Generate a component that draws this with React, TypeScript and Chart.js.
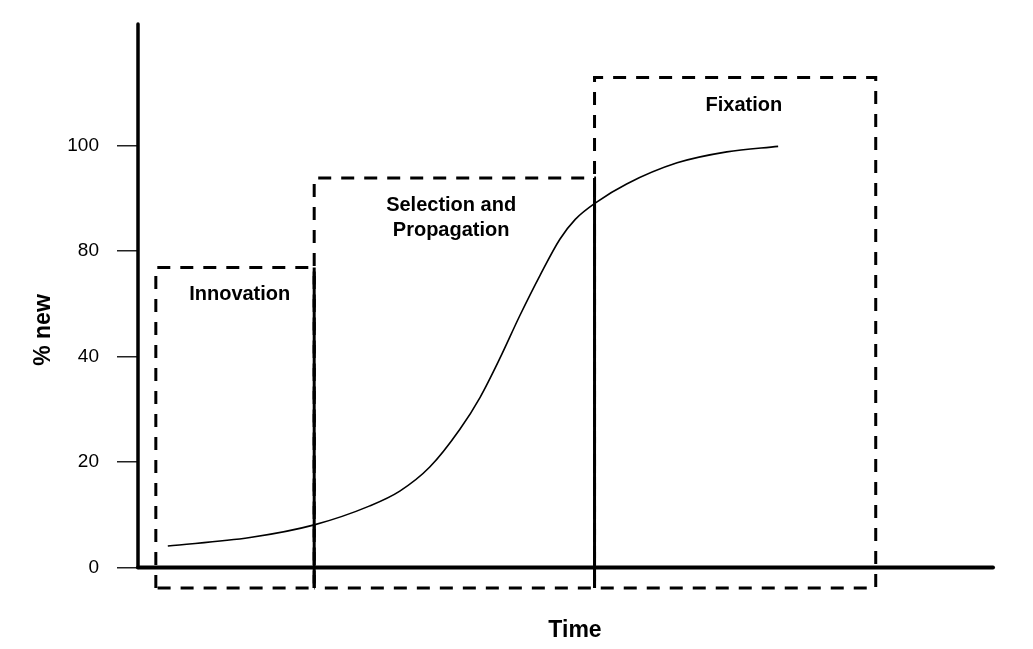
import React, { useEffect, useRef } from 'react';
import { Chart, registerables } from 'chart.js';

Chart.register(...registerables);

// Curve: time (arbitrary units 0-100) vs "% new" (axis position units, 100 = top tick)
const TIME = [3.6, 13.2, 20.7, 27.2, 30.7, 34.2, 37.7, 40.1, 42.4, 44.7, 47.1, 49.4, 51.2, 53.7, 57.2, 63.1, 68.9, 74.9];
const PCT_NEW = [5.1, 7.1, 10.1, 14.6, 18.1, 23.8, 32.7, 40.4, 49.6, 59.6, 69.3, 77.8, 82.5, 86.6, 90.9, 95.9, 98.5, 99.8];

const Y_TICK_VALUES = [0, 25, 50, 75, 100];
const Y_TICK_LABELS = ['0', '20', '40', '80', '100'];

const PHASES = ['Innovation', 'Selection and\nPropagation', 'Fixation'];
const PHASE_START = [2.2, 20.7, 53.45];
const PHASE_END = [20.7, 53.45, 86.3];
const PHASE_TOP = [71.1, 92.3, 116.1];
const PHASE_FLOOR = -4.86;
const PHASE_LABEL_X = [12.0, 36.7, 70.9];
const PHASE_LABEL_Y = [64.7, 82.8, 109.6];

const X_MIN = 0;
const X_MAX = 100;
const Y_MIN = -4.86;
const Y_MAX = 128.8;

const FONT = '"Liberation Sans", Arial, Helvetica, sans-serif';

const axesPlugin = {
  id: 'axesLines',
  afterDatasetsDraw(chart: any) {
    const { ctx, scales } = chart;
    const x = scales.x;
    const y = scales.y;
    ctx.save();
    ctx.strokeStyle = '#000';
    ctx.lineCap = 'round';
    // y axis
    ctx.lineWidth = 3.5;
    ctx.beginPath();
    ctx.moveTo(x.getPixelForValue(X_MIN) + 1, y.getPixelForValue(0));
    ctx.lineTo(x.getPixelForValue(X_MIN) + 1, y.getPixelForValue(Y_MAX));
    ctx.stroke();
    // x axis
    ctx.lineWidth = 4;
    ctx.beginPath();
    ctx.moveTo(x.getPixelForValue(X_MIN) + 1, y.getPixelForValue(0));
    ctx.lineTo(x.getPixelForValue(X_MAX), y.getPixelForValue(0));
    ctx.stroke();
    ctx.restore();
  },
  afterDraw(chart: any) {
    const { ctx, scales } = chart;
    const x = scales.x;
    const y = scales.y;
    ctx.save();
    ctx.fillStyle = '#000';
    ctx.textAlign = 'center';
    ctx.textBaseline = 'middle';
    ctx.font = `bold 20px ${FONT}`;
    PHASES.forEach((label, i) => {
      const lines = label.split('\n');
      const cx = x.getPixelForValue(PHASE_LABEL_X[i]);
      const cy = y.getPixelForValue(PHASE_LABEL_Y[i]);
      const lh = 25;
      lines.forEach((ln, j) => {
        ctx.fillText(ln, cx, cy + (j - (lines.length - 1) / 2) * lh);
      });
    });
    ctx.font = `bold 23px ${FONT}`;
    ctx.fillText('Time', 575, 631);
    ctx.translate(43.5, 330);
    ctx.rotate(-Math.PI / 2);
    ctx.fillText('% new', 0, 0);
    ctx.restore();
  },
};

export default function App() {
  const canvasRef = useRef<HTMLCanvasElement | null>(null);

  useEffect(() => {
    const canvas = canvasRef.current;
    if (!canvas) return;

    const boxDatasets = PHASES.map((p, i) => ({
      label: p,
      data: [
        { x: PHASE_START[i], y: PHASE_FLOOR },
        { x: PHASE_START[i], y: PHASE_TOP[i] },
        { x: PHASE_END[i], y: PHASE_TOP[i] },
        { x: PHASE_END[i], y: PHASE_FLOOR },
        { x: PHASE_START[i], y: PHASE_FLOOR },
      ],
      borderColor: '#000',
      borderWidth: 3,
      borderDash: [13, 10],
      borderJoinStyle: 'miter' as const,
      pointRadius: 0,
      tension: 0,
      fill: false,
      clip: false as any,
    }));

    // shared edges between adjacent phases (overlapping dashes read as solid)
    const sharedEdges = [0, 1].map((i) => ({
      label: 'edge' + i,
      data: [
        { x: PHASE_END[i], y: PHASE_FLOOR },
        { x: PHASE_END[i], y: Math.min(PHASE_TOP[i], PHASE_TOP[i + 1]) },
      ],
      borderColor: '#000',
      borderWidth: 3,
      pointRadius: 0,
      tension: 0,
      fill: false,
      clip: false as any,
    }));

    const curve = {
      label: '% new',
      data: TIME.map((t, i) => ({ x: t, y: PCT_NEW[i] })),
      borderColor: '#000',
      borderWidth: 1.6,
      pointRadius: 0,
      cubicInterpolationMode: 'monotone' as const,
      fill: false,
      clip: false as any,
    };

    const chart = new Chart(canvas, {
      type: 'line',
      data: { datasets: [...boxDatasets, ...sharedEdges, curve] as any },
      options: {
        animation: false,
        responsive: false,
        maintainAspectRatio: false,
        devicePixelRatio: 1,
        layout: { padding: { left: 0, top: 24, right: 40, bottom: 61 } },
        plugins: {
          legend: { display: false },
          tooltip: { enabled: false },
          title: { display: false },
        },
        scales: {
          x: {
            type: 'linear',
            min: X_MIN,
            max: X_MAX,
            display: false,
            afterFit: (s: any) => {
              s.paddingLeft = 0;
              s.paddingRight = 0;
              s.height = 0;
            },
          },
          y: {
            type: 'linear',
            min: Y_MIN,
            max: Y_MAX,
            border: { display: false },
            grid: {
              drawOnChartArea: false,
              drawTicks: true,
              tickLength: 20,
              color: '#222',
              lineWidth: 1.5,
            },
            afterBuildTicks: (s: any) => {
              s.ticks = Y_TICK_VALUES.map((v) => ({ value: v }));
            },
            afterFit: (s: any) => {
              s.width = 137;
              s.paddingTop = 0;
              s.paddingBottom = 0;
            },
            ticks: {
              padding: 18,
              color: '#000',
              font: { family: FONT, size: 19 },
              callback: (v: any) => {
                const idx = Y_TICK_VALUES.indexOf(Number(v));
                return idx >= 0 ? Y_TICK_LABELS[idx] : '';
              },
            },
          },
        },
      },
      plugins: [axesPlugin],
    });

    return () => chart.destroy();
  }, []);

  return (
    <div style={{ position: 'fixed', left: 0, top: 0, width: 1033, height: 649, background: '#fff' }}>
      <canvas ref={canvasRef} width={1033} height={649} style={{ display: 'block' }} />
    </div>
  );
}
